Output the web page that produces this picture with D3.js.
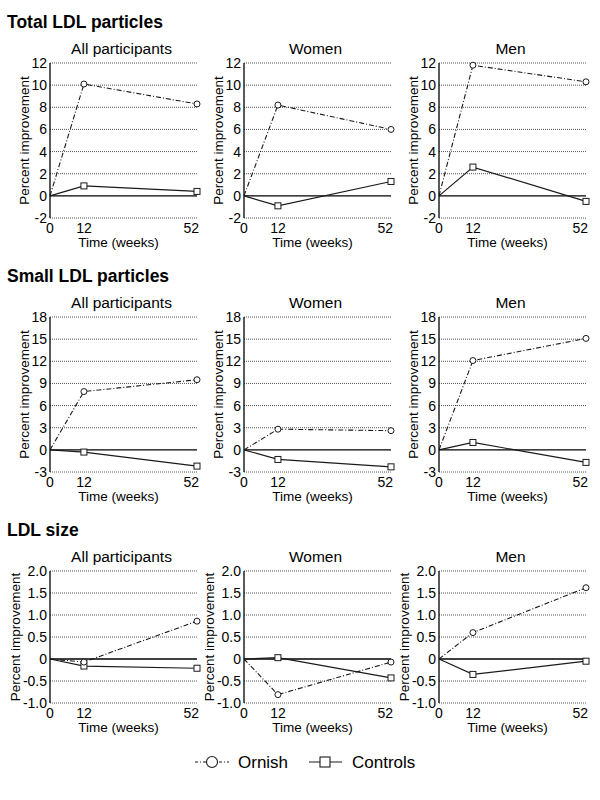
<!DOCTYPE html>
<html><head><meta charset="utf-8">
<script src="https://cdn.jsdelivr.net/npm/d3@7/dist/d3.min.js"></script>
<style>body{margin:0;background:#fff}svg{display:block;font-family:"Liberation Sans",Arial,sans-serif}</style>
</head><body><svg id="c" width="600" height="800"></svg>
<script>
const sections = ["Total LDL particles", "Small LDL particles", "LDL size"];
const groups = ["All participants", "Women", "Men"];
const weeks = [0, 12, 52];
const weekLabels = ["0", "12", "52"];

// values per group: [All, Women, Men]
const ornishTotal   = [[0, 10.1, 8.3], [0, 8.2, 6.0], [0, 11.8, 10.3]];
const controlsTotal = [[0, 0.9, 0.4], [0, -0.9, 1.3], [0, 2.6, -0.5]];
const ornishSmall   = [[0, 7.9, 9.5], [0, 2.8, 2.6], [0, 12.1, 15.1]];
const controlsSmall = [[0, -0.3, -2.2], [0, -1.3, -2.3], [0, 1.0, -1.7]];
const ornishSize    = [[0, -0.07, 0.86], [0, -0.81, -0.07], [0, 0.6, 1.62]];
const controlsSize  = [[0, -0.16, -0.21], [0, 0.03, -0.43], [0, -0.35, -0.05]];

const yTicksTotal = [-2, 0, 2, 4, 6, 8, 10, 12];
const yLabelsTotal = ["-2", "0", "2", "4", "6", "8", "10", "12"];
const yTicksSmall = [-3, 0, 3, 6, 9, 12, 15, 18];
const yLabelsSmall = ["-3", "0", "3", "6", "9", "12", "15", "18"];
const yTicksSize = [-1, -0.5, 0, 0.5, 1, 1.5, 2];
const yLabelsSize = ["-1.0", "-0.5", "0", "0.5", "1.0", "1.5", "2.0"];

const seriesNames = ["Ornish", "Controls"];
const yAxisTitle = "Percent improvement";
const xAxisTitle = "Time (weeks)";

const rows = [
  {title: sections[0], ornish: ornishTotal, controls: controlsTotal, ticks: yTicksTotal, labels: yLabelsTotal, top: 63, h: 155, ylab: -21},
  {title: sections[1], ornish: ornishSmall, controls: controlsSmall, ticks: yTicksSmall, labels: yLabelsSmall, top: 317, h: 155, ylab: -21},
  {title: sections[2], ornish: ornishSize, controls: controlsSize, ticks: yTicksSize, labels: yLabelsSize, top: 571, h: 132, ylab: -30}
];
const colX = [50, 244, 439];
const pw = 147;
const ink = "#1a1a1a";

const svg = d3.select("#c");

rows.forEach((row, ri) => {
  svg.append("text").attr("x", 7).attr("y", row.top - 35)
    .attr("font-size", 17.5).attr("font-weight", "bold").attr("fill", "#000").text(row.title);

  groups.forEach((gname, gi) => {
    const x0 = colX[gi];
    const x = d3.scaleLinear().domain([0, 52]).range([x0, x0 + pw]);
    const y = d3.scaleLinear().domain([row.ticks[0], row.ticks[row.ticks.length - 1]]).range([row.top + row.h, row.top]);
    const g = svg.append("g");

    // panel title
    g.append("text").attr("x", x0 + pw / 2 - 2).attr("y", row.top - 9)
      .attr("text-anchor", "middle").attr("font-size", 15.5).attr("fill", "#000").text(gname);

    // gridlines
    g.selectAll(".grid").data(row.ticks.filter(t => t !== 0)).join("line")
      .attr("x1", x0).attr("x2", x0 + pw)
      .attr("y1", d => y(d)).attr("y2", d => y(d))
      .attr("stroke", "#555").attr("stroke-width", 1).attr("stroke-dasharray", "1,1");
    // zero line
    g.append("line").attr("x1", x0).attr("x2", x0 + pw).attr("y1", y(0)).attr("y2", y(0))
      .attr("stroke", "#000").attr("stroke-width", 1.3);
    // y axis line
    g.append("line").attr("x1", x0).attr("x2", x0).attr("y1", row.top).attr("y2", row.top + row.h)
      .attr("stroke", "#000").attr("stroke-width", 1.3);

    // y tick labels
    g.selectAll(".yl").data(row.ticks).join("text")
      .attr("x", x0 - 3).attr("y", d => y(d)).attr("dy", "0.36em")
      .attr("text-anchor", "end").attr("font-size", 14).attr("fill", "#000")
      .text((d, i) => row.labels[i]);

    // x tick labels
    g.selectAll(".xl").data(weeks).join("text")
      .attr("x", d => x(d) + (d === 52 ? 2 : 0)).attr("y", row.top + row.h + 15)
      .attr("text-anchor", d => d === 52 ? "end" : "middle")
      .attr("font-size", 14).attr("fill", "#000")
      .text((d, i) => weekLabels[i]);

    // axis titles
    g.append("text").attr("x", x0 + pw / 2 - 5).attr("y", row.top + row.h + 29)
      .attr("text-anchor", "middle").attr("font-size", 13.5).attr("fill", "#000").text(xAxisTitle);
    g.append("text")
      .attr("transform", `translate(${x0 + row.ylab},${row.top + row.h / 2}) rotate(-90)`)
      .attr("text-anchor", "middle").attr("font-size", 13.5).attr("fill", "#000").text(yAxisTitle);

    const line = d3.line().x((d, i) => x(weeks[i])).y(d => y(d));
    const ov = row.ornish[gi], cv = row.controls[gi];

    g.append("path").attr("d", line(cv)).attr("fill", "none")
      .attr("stroke", ink).attr("stroke-width", 1.2);
    g.append("path").attr("d", line(ov)).attr("fill", "none")
      .attr("stroke", ink).attr("stroke-width", 1.1).attr("stroke-dasharray", "5,2,1,2");

    g.selectAll(".sq").data(cv.slice(1)).join("rect")
      .attr("x", (d, i) => x(weeks[i + 1]) - 3).attr("y", d => y(d) - 3)
      .attr("width", 6).attr("height", 6)
      .attr("fill", "#fff").attr("stroke", ink).attr("stroke-width", 1);
    g.selectAll(".ci").data(ov.slice(1)).join("circle")
      .attr("cx", (d, i) => x(weeks[i + 1])).attr("cy", d => y(d)).attr("r", 3)
      .attr("fill", "#fff").attr("stroke", ink).attr("stroke-width", 1);
  });
});

// legend
const lg = svg.append("g");
lg.append("line").attr("x1", 195).attr("x2", 229).attr("y1", 762).attr("y2", 762)
  .attr("stroke", ink).attr("stroke-width", 1.1).attr("stroke-dasharray", "3,2,1,2");
lg.append("circle").attr("cx", 212).attr("cy", 762).attr("r", 5.5)
  .attr("fill", "#fff").attr("stroke", ink).attr("stroke-width", 1.1);
lg.append("text").attr("x", 238).attr("y", 768).attr("font-size", 17).attr("fill", "#000").text(seriesNames[0]);
lg.append("line").attr("x1", 309).attr("x2", 342).attr("y1", 762).attr("y2", 762)
  .attr("stroke", ink).attr("stroke-width", 1.2);
lg.append("rect").attr("x", 320).attr("y", 757).attr("width", 10).attr("height", 10)
  .attr("fill", "#fff").attr("stroke", ink).attr("stroke-width", 1.1);
lg.append("text").attr("x", 352).attr("y", 768).attr("font-size", 17).attr("fill", "#000").text(seriesNames[1]);
</script></body></html>
